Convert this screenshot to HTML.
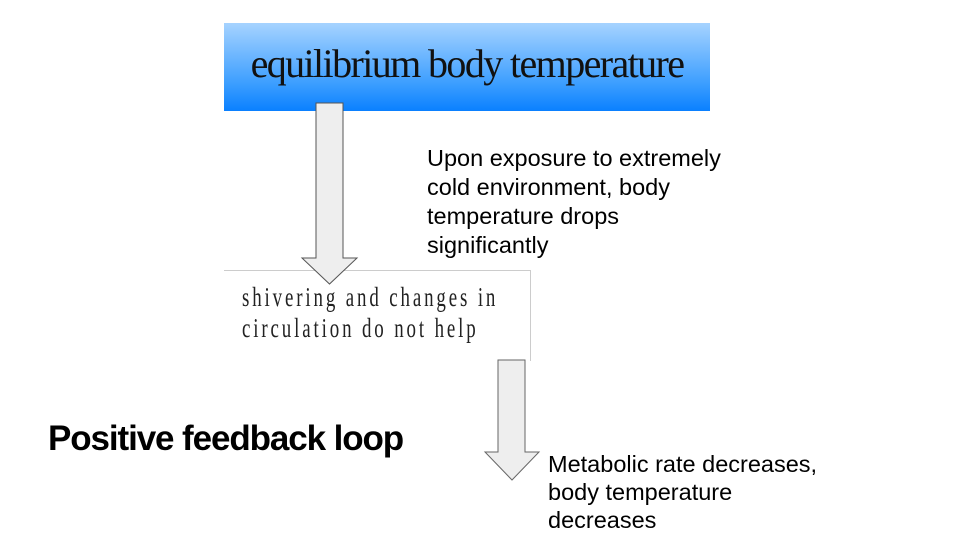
<!DOCTYPE html>
<html><head><meta charset="utf-8"><style>
body{margin:0;width:960px;height:540px;background:#fff;position:relative;overflow:hidden;font-family:"Liberation Sans",sans-serif}
.a{position:absolute}
</style></head><body>
<div class="a" style="left:224px;top:23px;width:486px;height:88px;background:linear-gradient(#a6d3ff,#3a9dff 70%,#0a80ff);"></div>
<div class="a" style="left:224px;top:40px;width:486px;text-align:center;font-family:'Liberation Serif',serif;font-size:40px;letter-spacing:-1.6px;color:#111;">equilibrium body temperature</div>
<div class="a" style="left:224px;top:270px;width:306px;height:90px;border-top:1px solid #ccc;border-right:1px solid #ccc;"></div>
<svg class="a" style="left:0;top:0" width="960" height="540">
<polygon points="316,103 343,103 343,258 357,258 329.5,284 302,258 316,258" fill="#eee" stroke="#555" stroke-width="1"/>
<polygon points="498,360 525,360 525,452 539,452 512,480 485,452 498,452" fill="#eee" stroke="#666" stroke-width="1"/>
</svg>
<div class="a" style="left:242px;top:282px;font-family:'Liberation Serif',serif;font-size:27px;line-height:31px;color:#222;letter-spacing:4.1px;transform:scaleX(0.7);transform-origin:0 0;white-space:nowrap;">shivering and changes in<br>circulation do not help</div>
<div class="a" style="left:427px;top:144px;font-size:23.5px;line-height:29px;color:#000;white-space:nowrap;">Upon exposure to extremely<br>cold environment, body<br>temperature drops<br>significantly</div>
<div class="a" style="left:548px;top:450px;font-size:23.5px;line-height:28px;color:#000;white-space:nowrap;">Metabolic rate decreases,<br>body temperature<br>decreases</div>
<div class="a" style="left:48px;top:419px;font-size:35px;font-weight:bold;letter-spacing:-1.1px;color:#000;white-space:nowrap;">Positive feedback loop</div>
</body></html>
